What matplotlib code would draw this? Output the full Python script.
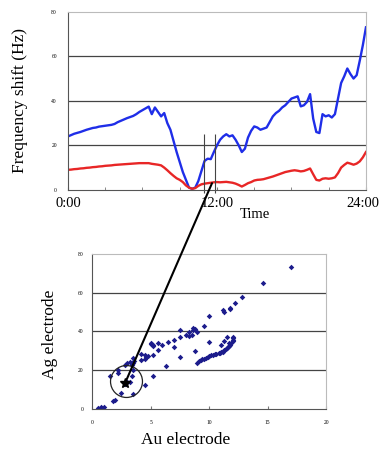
import matplotlib
matplotlib.use("Agg")
import matplotlib.pyplot as plt
import matplotlib.transforms as mtransforms
import numpy as np
from matplotlib.patches import ConnectionPatch

# ---- data ----
hours = [i * 0.25 for i in range(97)]

ag_shift = [24.0, 24.6, 25.2, 25.6, 26.0, 26.5, 27.0, 27.4, 27.8, 28.0, 28.4, 28.6,
            28.8, 29.0, 29.2, 29.6, 30.4, 31.0, 31.6, 32.2, 32.7, 33.2, 34.0, 35.0,
            35.8, 36.6, 37.4, 34.0, 37.0, 35.0, 33.0, 34.5, 30.0, 27.0, 22.0, 17.0,
            12.5, 8.0, 4.5, 1.0, 0.5, 1.0, 4.0, 8.5, 13.0, 14.0, 13.8, 17.0,
            20.0, 22.5, 24.0, 25.0, 24.0, 24.5, 22.5, 20.0, 17.0, 18.5, 23.5, 26.5,
            28.5, 28.0, 27.0, 27.5, 28.0, 30.5, 33.0, 34.5, 35.5, 37.0, 38.0, 39.5,
            41.0, 41.5, 42.0, 37.5, 38.0, 39.5, 43.0, 32.0, 26.0, 25.5, 34.0, 33.0,
            33.5, 32.5, 34.0, 41.0, 48.0, 51.0, 54.5, 52.0, 50.0, 51.5, 58.0, 65.0,
            73.0]

au_shift = [9.0, 9.1, 9.3, 9.4, 9.6, 9.7, 9.9, 10.0, 10.2, 10.3, 10.5, 10.6,
            10.8, 10.9, 11.0, 11.2, 11.3, 11.4, 11.5, 11.6, 11.7, 11.8, 11.9, 12.0,
            12.0, 12.0, 12.0, 11.7, 11.5, 11.3, 11.0, 10.0, 8.8, 7.5, 6.3, 5.2,
            4.5, 3.5, 2.0, 1.0, 0.5, 0.8, 1.8, 2.5, 2.8, 3.0, 3.2, 3.4,
            3.5, 3.4, 3.5, 3.6, 3.4, 3.2, 2.8, 2.2, 1.5, 2.2, 3.0, 3.5,
            4.2, 4.5, 4.6, 4.8, 5.2, 5.6, 6.0, 6.5, 7.0, 7.5, 8.0, 8.3,
            8.6, 8.8, 8.6, 8.3, 8.5, 9.0, 9.6, 7.0, 4.5, 4.2, 5.0, 5.2,
            5.0, 5.2, 5.6, 7.5, 10.0, 11.2, 12.2, 11.8, 11.3, 11.8, 12.8, 14.6,
            17.0]

time_ticks = [0, 12, 24]
time_labels = ["0:00", "12:00", "24:00"]
freq_ticks = [0, 20, 40, 60, 80]
au_ticks = [0, 5, 10, 15, 20]
ag_ticks = [0, 20, 40, 60, 80]
marked_hours = [10.95, 11.84]

plt.rcParams['font.family'] = ['Liberation Serif', 'DejaVu Serif']

fig = plt.figure(figsize=(3.82, 4.51), dpi=100)

# ---- top: time series ----
ax1 = fig.add_axes([0.178, 0.579, 0.780, 0.395])
ax1.plot(hours, ag_shift, color='#1f2ee8', lw=1.7)
ax1.plot(hours, au_shift, color='#e82626', lw=1.7)
ax1.set_xlim(0, 24)
ax1.set_ylim(0, 80)
ax1.set_yticks(freq_ticks)
ax1.set_yticklabels([str(v) for v in freq_ticks], fontsize=4)
ax1.set_xticks(np.arange(0, 25, 3), minor=True)
ax1.set_xticks(time_ticks)
ax1.set_xticklabels(time_labels, fontsize=10.5)
ax1.tick_params(axis='x', which='both', direction='in', length=2, pad=5, color='#777777')
ax1.tick_params(axis='y', length=0, pad=8)
last = ax1.get_xticklabels()[-1]
last.set_transform(last.get_transform() +
                   mtransforms.ScaledTranslation(-2 / 72, 0, fig.dpi_scale_trans))
for v in [20, 40, 60]:
    ax1.axhline(v, color='#444444', lw=0.9, zorder=0)
for s in ['top', 'right']:
    ax1.spines[s].set_color('#bbbbbb')
ax1.spines['left'].set_color('#555555')
ax1.spines['bottom'].set_color('#555555')
ax1.set_ylabel("Frequency shift (Hz)", fontsize=12.5)
ax1.yaxis.set_label_coords(-0.134, 0.5)
ax1.vlines(marked_hours, -1.5, 25, color='#444444', lw=0.8, clip_on=False)
ax1.text(15.06, -11.2, "Time", fontsize=10.5, ha='center', va='center', clip_on=False)

# ---- bottom: Ag vs Au scatter ----
ax2 = fig.add_axes([0.241, 0.093, 0.613, 0.344])
ax2.scatter(au_shift, ag_shift, marker='D', s=8, color='#1c1c8c', linewidths=0)
ax2.set_xlim(0, 20)
ax2.set_ylim(0, 80)
ax2.set_xticks(au_ticks)
ax2.set_xticklabels([str(v) for v in au_ticks], fontsize=4)
ax2.set_yticks(ag_ticks)
ax2.set_yticklabels([str(v) for v in ag_ticks], fontsize=4)
ax2.tick_params(axis='x', direction='in', length=2, pad=8, color='#777777')
ax2.tick_params(axis='y', length=0, pad=6)
for v in [20, 40, 60]:
    ax2.axhline(v, color='#444444', lw=0.9, zorder=0)
for s in ['top', 'right']:
    ax2.spines[s].set_color('#bbbbbb')
ax2.spines['left'].set_color('#555555')
ax2.spines['bottom'].set_color('#555555')
ax2.set_xlabel("Au electrode", fontsize=12.5)
ax2.xaxis.set_label_coords(0.40, -0.145)
ax2.set_ylabel("Ag electrode", fontsize=12.5)
ax2.yaxis.set_label_coords(-0.145, 0.48)

# circle and marker in scatter
ax2.plot([2.9], [14.5], marker='o', ms=23, mfc='none', mec='#222222', mew=0.9)
ax2.plot([2.8], [13.5], marker='*', ms=7, color='black')

# connecting line
con = ConnectionPatch(xyA=(11.6, 3.0), coordsA='data', axesA=ax1,
                      xyB=(2.9, 14.5), coordsB='data', axesB=ax2,
                      color='black', lw=1.5)
fig.add_artist(con)

fig.savefig("out.png", dpi=100)
